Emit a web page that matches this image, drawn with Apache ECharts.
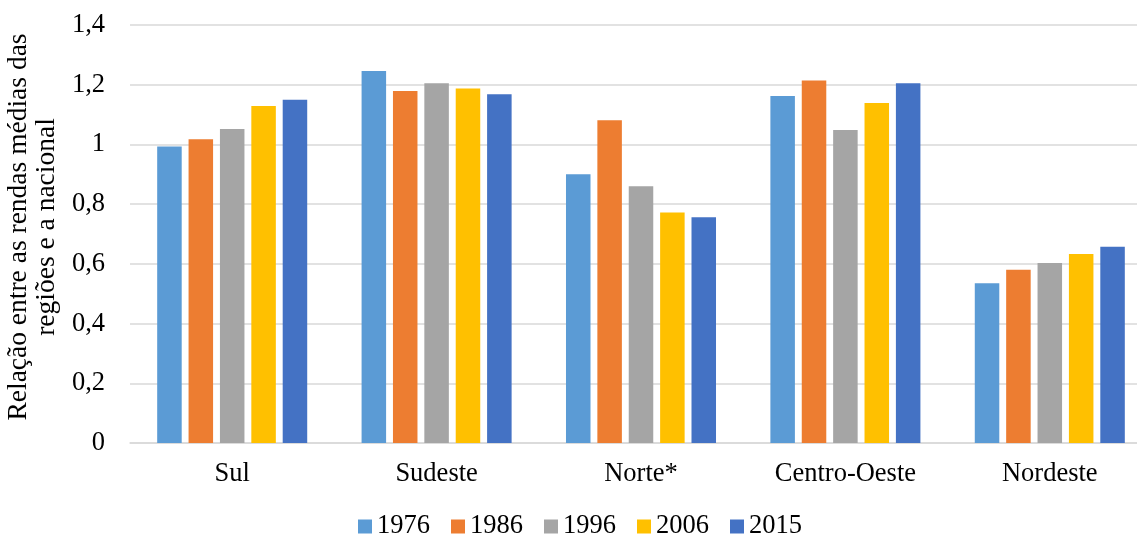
<!DOCTYPE html>
<html>
<head>
<meta charset="utf-8">
<script src="https://cdn.jsdelivr.net/npm/echarts@6/dist/echarts.min.js"></script>
<style>
  html, body { margin: 0; padding: 0; background: #ffffff; }
  #chart { width: 1137px; height: 537px; }
</style>
</head>
<body>
<div id="chart"></div>
<script>
// Regions and yearly ratio of regional to national mean income
const regions = ['Sul', 'Sudeste', 'Norte*', 'Centro-Oeste', 'Nordeste'];
const years = ['1976', '1986', '1996', '2006', '2015'];
const v1976 = [0.993, 1.246, 0.900, 1.162, 0.535];
const v1986 = [1.017, 1.179, 1.081, 1.214, 0.580];
const v1996 = [1.052, 1.205, 0.860, 1.048, 0.603];
const v2006 = [1.129, 1.187, 0.772, 1.139, 0.633];
const v2015 = [1.150, 1.168, 0.756, 1.205, 0.657];
const yTicks = ['0', '0,2', '0,4', '0,6', '0,8', '1', '1,2', '1,4'];

const seriesValues = [v1976, v1986, v1996, v2006, v2015];
const colors = ['#5B9BD5', '#ED7D31', '#A5A5A5', '#FFC000', '#4472C4'];
const font = '"Liberation Serif", "Times New Roman", serif';
const fs = 26.5;

const chart = echarts.init(document.getElementById('chart'), null, { renderer: 'canvas' });

chart.setOption({
  animation: false,
  backgroundColor: '#ffffff',
  textStyle: { fontFamily: font, color: '#000000' },
  // plot runs slightly past the right edge of the canvas
  grid: {
    left: 130, right: -15, top: 25, bottom: 94,
    containLabel: false,
    outerBoundsMode: 'none'
  },
  legend: {
    left: 358,
    top: 513,
    padding: 0,
    itemWidth: 14,
    itemHeight: 14,
    itemGap: 21,
    icon: 'rect',
    textStyle: { fontFamily: font, fontSize: fs, color: '#000000' },
    data: years
  },
  xAxis: {
    type: 'category',
    data: regions,
    axisLine: { show: true, lineStyle: { color: '#d9d9d9', width: 1.5 } },
    axisTick: { show: false },
    axisLabel: { fontFamily: font, fontSize: fs, color: '#000000', margin: 18 }
  },
  yAxis: {
    type: 'value',
    min: 0,
    max: 1.4,
    interval: 0.2,
    name: 'Relação entre as rendas médias das\nregiões e a nacional',
    nameLocation: 'middle',
    nameGap: 57,
    nameRotate: 90,
    nameTextStyle: {
      fontFamily: font,
      fontSize: 27.5,
      color: '#000000',
      lineHeight: 28,
      padding: [0, 0, 0, 14]
    },
    axisLine: { show: false },
    axisTick: { show: false },
    splitLine: { lineStyle: { color: '#d9d9d9', width: 1.5 } },
    axisLabel: {
      fontFamily: font,
      fontSize: fs,
      color: '#000000',
      margin: 25,
      formatter: function (val) {
        return yTicks[Math.round(val / 0.2)];
      }
    }
  },
  series: years.map(function (y, i) {
    return {
      name: y,
      type: 'bar',
      data: seriesValues[i],
      itemStyle: { color: colors[i] },
      barGap: '28%',
      barCategoryGap: '26.6%'
    };
  })
});
</script>
</body>
</html>
